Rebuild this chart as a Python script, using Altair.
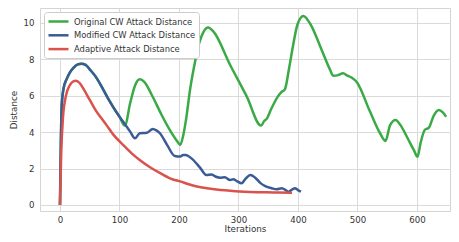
import altair as alt
import pandas as pd

series_names = ["Original CW Attack Distance", "Modified CW Attack Distance", "Adaptive Attack Distance"]
series_colors = ["#3aaa46", "#3a5b96", "#d9524b"]

orig_x = [0, 1, 3, 6, 11, 17, 23, 30, 36, 43, 50, 60, 70, 80, 90, 100, 109,
          118, 126, 134, 142, 155, 170, 185, 197, 202, 207, 213, 218, 227, 234, 241, 249,
          258, 286, 314, 338, 343, 348, 354, 360, 366, 372, 378, 385, 392, 399, 409,
          420, 440, 454, 459, 466, 476, 483, 490, 499, 521, 538, 547, 555, 564,
          572, 583, 595, 601, 606, 613, 620, 628, 637, 643, 649]
orig_y = [0.0, 2.5, 5.5, 6.4, 6.9, 7.3, 7.55, 7.72, 7.76, 7.7, 7.45, 7.05, 6.5, 5.9, 5.35, 4.85, 4.36,
          5.6, 6.55, 6.9, 6.75, 6.0, 5.0, 4.1, 3.5, 3.3, 3.8, 4.95, 6.2, 7.87, 8.9, 9.5, 9.75,
          9.52, 7.69, 5.95, 4.36, 4.6, 4.76, 5.2, 5.6, 5.95, 6.2, 6.35, 7.5, 8.8, 9.9, 10.38,
          9.98, 8.5, 7.42, 7.1, 7.12, 7.23, 7.1, 7.0, 6.74, 5.13, 3.94, 3.52, 4.4, 4.67,
          4.4, 3.75, 3.0, 2.65, 3.4, 4.12, 4.25, 4.9, 5.22, 5.1, 4.85]

mod_x = [0, 1, 3, 6, 11, 17, 23, 30, 36, 43, 50, 60, 70, 80, 90, 100, 110,
         118, 126, 134, 146, 156, 162, 168, 180, 193, 202, 207, 211, 221, 235, 246, 255,
         262, 269, 277, 286, 291, 298, 305, 312, 320, 328, 337, 345, 356, 364, 373, 380,
         384, 390, 395, 400, 405]
mod_y = [0.0, 2.5, 5.5, 6.4, 6.9, 7.3, 7.55, 7.72, 7.76, 7.7, 7.45, 7.05, 6.5, 5.9, 5.35, 4.85, 4.4,
         4.03, 3.66, 3.94, 3.97, 4.18, 4.1, 3.94, 3.3, 2.69, 2.66, 2.75, 2.75, 2.56, 2.07, 1.65, 1.68,
         1.55, 1.5, 1.52, 1.37, 1.41, 1.3, 1.19, 1.45, 1.65, 1.5, 1.2, 1.04, 0.92, 0.86, 0.92, 0.8,
         0.73, 0.85, 0.92, 0.82, 0.73]

adapt_x = [0, 2, 5, 10, 16, 22, 27, 33, 40, 50, 60, 70, 78, 90, 106, 120, 134, 150, 170, 190,
           202, 215, 230, 250, 270, 290, 310, 340, 365, 390]
adapt_y = [0.0, 2.8, 4.8, 6.0, 6.55, 6.78, 6.83, 6.7, 6.35, 5.77, 5.2, 4.75, 4.4, 3.85, 3.3, 2.85, 2.47, 2.1, 1.72, 1.4,
           1.3, 1.15, 1.02, 0.9, 0.82, 0.77, 0.73, 0.70, 0.68, 0.67]

x_ticks = [0, 100, 200, 300, 400, 500, 600]
y_ticks = [0, 2, 4, 6, 8, 10]

rows = []
for name, xs, ys in zip(series_names, [orig_x, mod_x, adapt_x], [orig_y, mod_y, adapt_y]):
    for xv, yv in zip(xs, ys):
        rows.append({"series": name, "iter": xv, "dist": yv})
df = pd.DataFrame(rows)

FONT = "DejaVu Sans"

def line_layer(name):
    return alt.Chart(df).transform_filter(alt.datum.series == name).mark_line(
        strokeWidth=2.5, interpolate="monotone"
    ).encode(
        x=alt.X("iter:Q", scale=alt.Scale(domain=[-33.6, 655.5], nice=False, zero=False),
                axis=alt.Axis(values=x_ticks, title="Iterations", format="d")),
        y=alt.Y("dist:Q", scale=alt.Scale(domain=[-0.33, 10.82], nice=False, zero=False),
                axis=alt.Axis(values=y_ticks, title="Distance", format="d")),
        color=alt.Color("series:N", scale=alt.Scale(domain=series_names, range=series_colors),
                        legend=alt.Legend(title=None, orient="top-left", offset=4)),
    )

chart = alt.layer(*[line_layer(n) for n in series_names]).properties(
    width=410, height=203,
    autosize=alt.AutoSizeParams(type="none"),
    padding={"left": 32, "top": 0, "right": 1, "bottom": 23},
).configure_view(
    stroke="#d4d4d4", strokeWidth=1
).configure_axis(
    grid=True, gridColor="#dadada", gridWidth=1, domain=False, ticks=False,
    labelFont=FONT, labelFontSize=8.6, labelColor="#333333",
    titleFont=FONT, titleFontSize=8.8, titleFontWeight="normal", titleColor="#333333",
).configure_axisX(
    labelPadding=4, titlePadding=1
).configure_axisY(
    labelPadding=6, titlePadding=5
).configure_legend(
    fillColor="white", strokeColor="#cccccc", cornerRadius=3, padding=3,
    symbolType="M-1,0H3", symbolStrokeWidth=2.5, symbolSize=100,
    labelFont=FONT, labelFontSize=8.4, labelColor="#333333", labelOffset=14,
    rowPadding=1.8,
)

chart.save("out.html", embed_options={"renderer": "svg", "actions": False})
